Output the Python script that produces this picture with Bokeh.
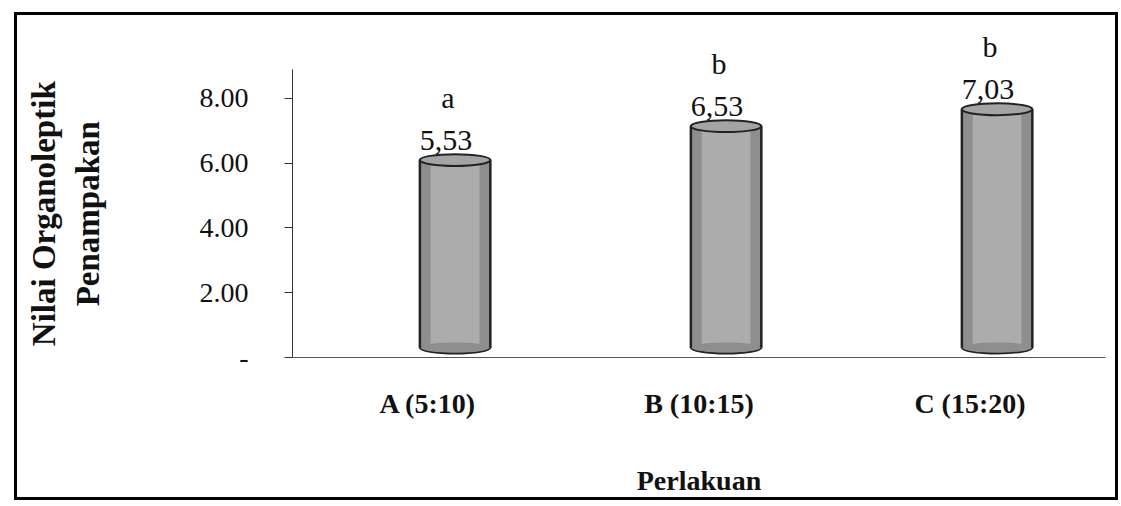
from bokeh.plotting import figure
from bokeh.models import ColumnDataSource, Range1d, FactorRange, FixedTicker, NumeralTickFormatter, LabelSet
from bokeh.transform import dodge
from bokeh.core.properties import value
from bokeh.embed import file_html
from bokeh.resources import INLINE

categories = ["A (5:10)", "B (10:15)", "C (15:20)"]
values = [5.53, 6.53, 7.03]
value_labels = ["5,53", "6,53", "7,03"]
letters = ["a", "b", "b"]
y_ticks = [0, 2, 4, 6, 8]

FONT = "Liberation Serif"
PAD = "\u00a0" * 6  # keeps the rotated axis title centred on the drawn axis line

src = ColumnDataSource(dict(cat=categories, val=values, vlab=value_labels, let=letters,
                            zero=[0] * len(values)))

p = figure(width=1104, height=488, x_range=FactorRange(*categories, range_padding=0),
           y_range=Range1d(0, 10.4), output_backend="svg", toolbar_location=None,
           min_border_left=275, min_border_right=16, min_border_top=5, min_border_bottom=146)
p.extra_y_ranges = {"bars": Range1d(-0.294, 9.647)}
p.styles = {"border": "3px solid black", "margin-top": "12px", "margin-left": "14px"}

p.outline_line_color = None
p.xgrid.grid_line_color = None
p.ygrid.grid_line_color = None
p.background_fill_color = "white"
p.border_fill_color = "white"

bx = dodge("cat", 0.1, range=p.x_range)

# cylinder body
p.ellipse(x=bx, y="zero", width=0.26, height=0.35, source=src, y_range_name="bars",
          fill_color="#8e8e8e", line_color="#222222", line_width=2)
p.vbar(x=bx, top="val", bottom=0, width=0.26, source=src, y_range_name="bars",
       fill_color="#8e8e8e", line_color="#222222", line_width=2.5)
p.vbar(x=bx, top="val", bottom=0, width=0.18, source=src, y_range_name="bars",
       fill_color="#acacac", line_color=None)
p.ellipse(x=bx, y="zero", width=0.255, height=0.3, source=src, y_range_name="bars",
          fill_color="#8e8e8e", line_color=None)
p.ellipse(x=bx, y="val", width=0.26, height=0.35, source=src, y_range_name="bars",
          fill_color="#a4a4a4", line_color="#222222", line_width=2)

vl = LabelSet(x="cat", y="val", text="vlab", source=src, y_range_name="bars",
              x_offset=18, y_offset=10, text_align="center", text_baseline="bottom",
              text_font=FONT, text_font_size="30px", text_color="#111111")
ll = LabelSet(x="cat", y="val", text="let", source=src, y_range_name="bars",
              x_offset=20, y_offset=46, text_align="center", text_baseline="bottom",
              text_font=FONT, text_font_size="30px", text_color="#111111")
p.add_layout(vl)
p.add_layout(ll)

# axes
p.yaxis.bounds = (0, 8.9)
p.yaxis.ticker = FixedTicker(ticks=y_ticks)
p.yaxis.formatter = NumeralTickFormatter(format="0.00")
p.yaxis.major_label_overrides = {0: "-"}
p.yaxis.major_label_text_font = FONT
p.yaxis.major_label_text_font_size = "28px"
p.yaxis.major_label_text_color = "#111111"
p.yaxis.major_label_standoff = 36
p.yaxis.major_tick_in = 0
p.yaxis.major_tick_out = 8
p.yaxis.minor_tick_line_color = None
p.yaxis.axis_line_color = "#333333"
p.yaxis.major_tick_line_color = "#333333"
p.yaxis.axis_label = "Nilai Organoleptik" + PAD + "\nPenampakan" + PAD
p.yaxis.axis_label_text_font = FONT
p.yaxis.axis_label_text_font_style = "bold"
p.yaxis.axis_label_text_font_size = "33px"
p.yaxis.axis_label_text_color = "#111111"
p.yaxis.axis_label_standoff = 91

p.xaxis.major_label_text_font = FONT
p.xaxis.major_label_text_font_style = "bold"
p.xaxis.major_label_text_font_size = "28px"
p.xaxis.major_label_text_color = "#111111"
p.xaxis.major_label_standoff = 24
p.xaxis.major_tick_line_color = None
p.xaxis.axis_line_color = "#555555"
p.xaxis.axis_label = "Perlakuan"
p.xaxis.axis_label_text_font = FONT
p.xaxis.axis_label_text_font_style = "bold"
p.xaxis.axis_label_text_font_size = "28px"
p.xaxis.axis_label_text_color = "#111111"
p.xaxis.axis_label_standoff = 43

open("out.html", "w").write(file_html(p, INLINE))
